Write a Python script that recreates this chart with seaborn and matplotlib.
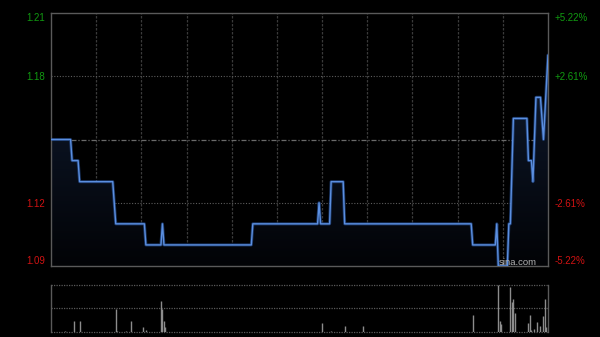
import numpy as np
import pandas as pd
import matplotlib
matplotlib.use("Agg")
import matplotlib.pyplot as plt
import seaborn as sns

# ---- data (minutes since 9:30 open, trading session = 330 min) ----
minutes = [0, 13, 14, 18, 19, 41, 43, 62, 63, 73, 74, 75, 133, 134, 177, 178, 179,
           185, 186, 194, 195, 279, 280, 295, 296, 297, 303, 304, 305, 307, 316, 317,
           319, 320, 322, 325, 327, 330]
prices = [1.15, 1.15, 1.14, 1.14, 1.13, 1.13, 1.11, 1.11, 1.10, 1.10, 1.11, 1.10,
          1.10, 1.11, 1.11, 1.12, 1.11, 1.11, 1.13, 1.13, 1.11, 1.11, 1.10, 1.10,
          1.11, 1.09, 1.09, 1.11, 1.11, 1.16, 1.16, 1.14, 1.14, 1.13, 1.17, 1.17,
          1.15, 1.19]
vol_minutes = [9, 15, 19, 43, 44, 50, 53, 61, 63, 73, 74, 75, 76, 180, 186, 195, 207,
               280, 297, 298, 299, 305, 306, 307, 308, 317, 318, 319, 321, 323, 325,
               327, 328, 329]
volumes = [1, 10.5, 10.7, 22.7, 1, 1, 11, 5.2, 1.5, 30.7, 22.7, 11, 5, 9, 1, 6, 5.4,
           16.4, 46.7, 11, 7.5, 44.4, 30, 32.7, 18.4, 8.6, 16.4, 1.7, 3, 9.7, 6.2,
           15.7, 32.7, 4.5]
prev_close = 1.15
left_ticks = [1.21, 1.18, 1.12, 1.09]
left_labels = ["1.21", "1.18", "1.12", "1.09"]
right_labels = ["+5.22%", "+2.61%", "-2.61%", "-5.22%"]
tick_colors = ["#119a11", "#119a11", "#d01212", "#d01212"]

sns.set_theme(style="dark")
plt.rcParams["font.family"] = ["Liberation Sans", "DejaVu Sans"]

W, H = 600, 337
fig = plt.figure(figsize=(6, 3.37), dpi=100, facecolor="black")
ax = fig.add_axes([51 / W, 1 - 266 / H, 497 / W, 253 / H])
axv = fig.add_axes([51 / W, 1 - 331.7 / H, 497 / W, 46.7 / H])

df = pd.DataFrame({"minute": minutes, "price": prices})

# ---- price panel ----
ax.set_facecolor("black")
ax.set_xlim(0, 330)
ax.set_ylim(1.09, 1.21)

for x in range(30, 330, 30):
    ax.axvline(x, color="#3a3a3a", lw=0.9, ls=(0, (2, 1.2)), zorder=1)
for y in (1.18, 1.12):
    ax.axhline(y, color="#5c5c5c", lw=0.8, ls=(0, (1, 1.5)), zorder=1)
ax.axhline(prev_close, color="#6a6a6a", lw=0.9, ls=(0, (4, 1.5, 1, 1.5)), zorder=1)

# gradient fill under the line
poly = ax.fill_between(df["minute"], df["price"], 1.09, color="none", lw=0)
grad = np.linspace(0, 1, 256).reshape(-1, 1)
cmap = matplotlib.colors.LinearSegmentedColormap.from_list(
    "g", ["#020306", "#0f1b30"])
img = ax.imshow(grad, cmap=cmap, aspect="auto", origin="lower",
                extent=[0, 330, 1.09, 1.19], zorder=2)
img.set_clip_path(poly.get_paths()[0], transform=ax.transData)

sns.lineplot(data=df, x="minute", y="price", ax=ax, estimator=None, sort=False,
             color="#2f5fb0", lw=2.2, alpha=0.55, zorder=3)
sns.lineplot(data=df, x="minute", y="price", ax=ax, estimator=None, sort=False,
             color="#5b8fe0", lw=1.0, zorder=4)

ax.set_xlabel("")
ax.set_ylabel("")
ax.set_xticks([])
ax.set_yticks(left_ticks)
ax.set_yticklabels(left_labels)
ax.tick_params(axis="y", length=0, pad=4, labelsize=7)
for lab, c in zip(ax.get_yticklabels(), tick_colors):
    lab.set_color(c)
ax.get_yticklabels()[0].set_va("top")
ax.get_yticklabels()[-1].set_va("bottom")
for s in ax.spines.values():
    s.set_color("#5a5a5a")
    s.set_linewidth(1.0)
    s.set_visible(True)

axr = ax.twinx()
axr.set_ylim(1.09, 1.21)
axr.set_yticks(left_ticks)
axr.set_yticklabels(right_labels)
axr.tick_params(axis="y", length=0, pad=5, labelsize=7)
for lab, c in zip(axr.get_yticklabels(), tick_colors):
    lab.set_color(c)
axr.get_yticklabels()[0].set_va("top")
axr.get_yticklabels()[-1].set_va("bottom")
axr.grid(False)
for s in axr.spines.values():
    s.set_visible(False)

ax.text(0.978, 0.004, "sina.com", transform=ax.transAxes, ha="right",
        va="baseline", color="#b4b4b4", fontsize=6.8, zorder=5)

# ---- volume panel ----
axv.set_facecolor("black")
axv.set_xlim(0, 330)
axv.set_ylim(0, 46.7)
for y in (46.7, 23.35, 0):
    axv.axhline(y, color="#5a5a5a", lw=0.9, ls=(0, (1, 1)), zorder=1, clip_on=False)
axv.vlines(vol_minutes, 0, volumes, color="#8c8c8c", lw=1.0, zorder=2)
axv.set_xticks([])
axv.set_yticks([])
axv.grid(False)
for k, s in axv.spines.items():
    if k in ("left", "right"):
        s.set_color("#5a5a5a")
        s.set_linewidth(1.0)
        s.set_visible(True)
    else:
        s.set_visible(False)

fig.savefig("out.png", dpi=100, facecolor="black")
